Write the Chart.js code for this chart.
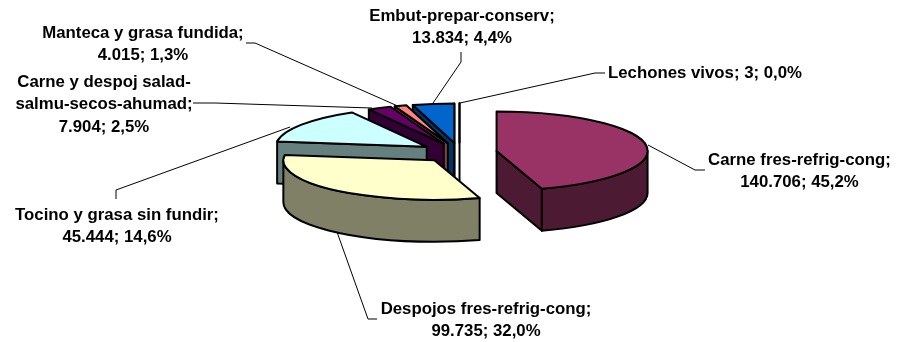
<!DOCTYPE html>
<html>
<head>
<meta charset="utf-8">
<title>Exportaciones</title>
<script src="https://cdn.jsdelivr.net/npm/chart.js@4/dist/chart.umd.min.js"></script>
<style>
  html, body { margin: 0; padding: 0; background: #fff; }
  canvas { display: block; }
</style>
</head>
<body>
<canvas id="pie" width="897" height="342"></canvas>
<script>
// Data (first point is the sliver at 12 o'clock)
const categories = [
  "Lechones vivos",
  "Carne fres-refrig-cong",
  "Despojos fres-refrig-cong",
  "Tocino y grasa sin fundir",
  "Carne y despoj salad-salmu-secos-ahumad",
  "Manteca y grasa fundida",
  "Embut-prepar-conserv",
];
const values = [3, 140706, 99735, 45444, 7904, 4015, 13834];
const topColors = ["#9999FF", "#993366", "#FFFFCC", "#CCFFFF", "#660066", "#FF8080", "#0066CC"];
const sideColors = ["#4D4D80", "#4D1A33", "#808066", "#668080", "#330033", "#804040", "#003366"];

const labelLines = [
  ["Lechones vivos; 3; 0,0%"],
  ["Carne fres-refrig-cong;", "140.706; 45,2%"],
  ["Despojos fres-refrig-cong;", "99.735; 32,0%"],
  ["Tocino y grasa sin fundir;", "45.444; 14,6%"],
  ["Carne y despoj salad-", "salmu-secos-ahumad;", "7.904; 2,5%"],
  ["Manteca y grasa fundida;", "4.015; 1,3%"],
  ["Embut-prepar-conserv;", "13.834; 4,4%"],
];
// Centre of the first line of each label
const labelX = [705, 799.5, 486, 117, 104, 143, 462];
const labelY = [73, 160, 309, 215, 82, 33, 16];
const leaders = [
  [[605, 73], [595, 73], [460, 103]],
  [[705, 170], [695, 170], [648, 145]],
  [[377, 319], [368, 319], [337, 232]],
  [[116, 199], [116, 190], [290, 127]],
  [[193, 103], [215, 103], [372, 108]],
  [[246, 43], [255, 43], [400, 107]],
  [[461, 52], [461, 62], [433, 103]],
];

// 3D look of the pie
const pieRadius = 151;
const squash = 39.5 / 151;
const depth = 42;
const explode = [37, 37.5, 39, 39.5, 37, 37, 37];
const topFaceY = 152.5;
const drawOrder = [0, 6, 5, 4, 3, 2, 1];

const tiltedPie = {
  id: "tiltedPie",
  beforeDatasetsDraw(chart) {
    const ctx = chart.ctx;
    const meta = chart.getDatasetMeta(0);
    ctx.lineJoin = "round";

    drawOrder.forEach((i) => {
      const arc = meta.data[i];
      const x = arc.x;
      const y = arc.y;
      const a = arc.startAngle;
      const b = arc.endAngle;
      const r = arc.outerRadius;
      const ry = r * squash;
      const mid = (a + b) / 2;
      const cx = x + Math.cos(mid) * explode[i];
      const cy = topFaceY + Math.sin(mid) * explode[i] * squash;

      ctx.fillStyle = sideColors[i];
      ctx.strokeStyle = "#000";
      ctx.lineWidth = 2;

      // cut faces, only the ones turned to the viewer
      [a, b].forEach((angle, n) => {
        const front = n === 0 ? Math.cos(angle) < 0 : Math.cos(angle) > 0;
        if (!front) return;
        const ex = cx + Math.cos(angle) * r;
        const ey = cy + Math.sin(angle) * ry;
        ctx.beginPath();
        ctx.moveTo(cx, cy);
        ctx.lineTo(ex, ey);
        ctx.lineTo(ex, ey + depth);
        ctx.lineTo(cx, cy + depth);
        ctx.closePath();
        ctx.fill();
        ctx.stroke();
      });

      // outer rim between 3 and 9 o'clock
      const from = Math.max(a, 0);
      const to = Math.min(b, Math.PI);
      if (to > from) {
        ctx.beginPath();
        ctx.ellipse(cx, cy, r, ry, 0, from, to);
        ctx.ellipse(cx, cy + depth, r, ry, 0, to, from, true);
        ctx.closePath();
        ctx.fill();
        ctx.stroke();
      }

      // top face comes from the library's own arc element
      ctx.save();
      ctx.translate(cx, cy);
      ctx.scale(1, squash);
      ctx.translate(-x, -y);
      arc.draw(ctx);
      ctx.restore();

      ctx.beginPath();
      ctx.moveTo(cx, cy);
      ctx.ellipse(cx, cy, r, ry, 0, a, b);
      ctx.closePath();
      ctx.stroke();
    });
    return false;
  },
  afterDraw(chart) {
    const ctx = chart.ctx;

    ctx.strokeStyle = "#000";
    ctx.lineWidth = 1;
    leaders.forEach((pts) => {
      ctx.beginPath();
      pts.forEach((p, n) => (n === 0 ? ctx.moveTo(p[0], p[1]) : ctx.lineTo(p[0], p[1])));
      ctx.stroke();
    });

    ctx.fillStyle = "#000";
    ctx.font = "bold 16.8px 'Liberation Sans', Arial, sans-serif";
    ctx.textAlign = "center";
    ctx.textBaseline = "middle";
    labelLines.forEach((lines, i) => {
      lines.forEach((line, n) => {
        ctx.fillText(line, labelX[i], labelY[i] + n * 22.5);
      });
    });
  },
};

new Chart(document.getElementById("pie"), {
  type: "pie",
  data: {
    labels: categories,
    datasets: [
      {
        data: values,
        backgroundColor: topColors,
        borderWidth: 0,
        radius: pieRadius,
      },
    ],
  },
  options: {
    responsive: false,
    animation: false,
    layout: { padding: { left: 22 } },
    plugins: {
      legend: { display: false },
      tooltip: { enabled: false },
    },
  },
  plugins: [tiltedPie],
});
</script>
</body>
</html>
